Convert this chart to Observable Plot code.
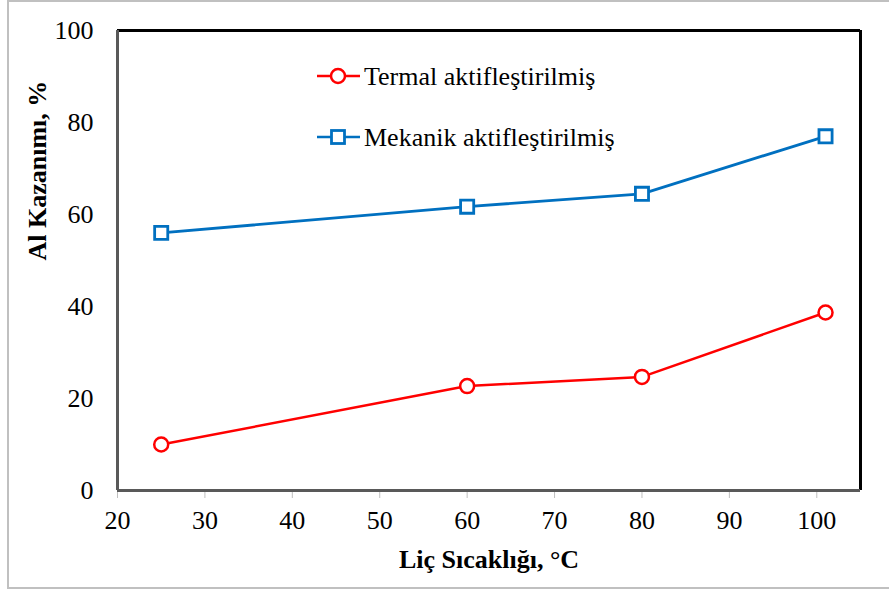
<!DOCTYPE html>
<html>
<head>
<meta charset="utf-8">
<script src="https://cdn.jsdelivr.net/npm/d3@7"></script>
<script src="https://cdn.jsdelivr.net/npm/@observablehq/plot@0.6"></script>
<style>
  html, body { margin: 0; padding: 0; background: #fff; }
  #wrap { position: relative; width: 889px; height: 590px; overflow: hidden; }
  #border { position: absolute; left: 7px; top: 0px; width: 900px; height: 585px; border: 2px solid #c0c0c0; box-sizing: content-box; }
  #chart { position: absolute; left: 0; top: 0; }
  #legend { position: absolute; left: 0; top: 0; }
</style>
</head>
<body>
<div id="wrap">
  <div id="border"></div>
  <div id="chart"></div>
  <svg id="legend" width="889" height="590"></svg>
</div>
<script>
const temps = [25, 60, 80, 101];
const termal = [10.0, 22.7, 24.7, 38.7];
const mekanik = [56.0, 61.7, 64.5, 77.0];
const seriesNames = ["Termal aktifleştirilmiş", "Mekanik aktifleştirilmiş"];
const xTicks = [20, 30, 40, 50, 60, 70, 80, 90, 100];
const yTicks = [0, 20, 40, 60, 80, 100];
const xLabel = "Liç Sıcaklığı, °C";
const yLabel = "Al Kazanımı, %";

const red = "#FF0000";
const blue = "#0070C0";

const tData = temps.map((t, i) => ({x: t, y: termal[i]}));
const mData = temps.map((t, i) => ({x: t, y: mekanik[i]}));

const font = "'Liberation Serif', 'Times New Roman', serif";

const chart = Plot.plot({
  width: 889,
  height: 590,
  marginLeft: 117,
  marginRight: 29,
  marginTop: 30,
  marginBottom: 100,
  style: {fontFamily: font, fontSize: "26px", color: "#000", background: "transparent"},
  x: {domain: [20, 105]},
  y: {domain: [0, 100]},
  marks: [
    Plot.axisX({ticks: xTicks, tickSize: 8, tickPadding: 12, stroke: "#bfbfbf", fill: "#000", label: null, fontSize: 26, strokeWidth: 1}),
    Plot.axisY({ticks: yTicks, tickSize: 0, tickPadding: 24, fill: "#000", label: null, fontSize: 26}),
    Plot.ruleY([100], {stroke: "#000", strokeWidth: 3}),
    Plot.ruleX([105], {stroke: "#000", strokeWidth: 3}),
    Plot.ruleY([0], {stroke: "#595959", strokeWidth: 3}),
    Plot.ruleX([20], {stroke: "#595959", strokeWidth: 3}),
    Plot.line(tData, {x: "x", y: "y", stroke: red, strokeWidth: 2.5}),
    Plot.line(mData, {x: "x", y: "y", stroke: blue, strokeWidth: 2.8}),
    Plot.dot(tData, {x: "x", y: "y", r: 7, stroke: red, fill: "#fff", strokeWidth: 2.5}),
    Plot.dot(mData, {x: "x", y: "y", r: 7.4, symbol: "square", stroke: blue, fill: "#fff", strokeWidth: 2.8}),
    Plot.text([xLabel], {frameAnchor: "bottom", dy: 77, fontWeight: "bold", fontSize: 26, fill: "#000"}),
    Plot.text([yLabel], {frameAnchor: "left", dx: -80, rotate: -90, fontWeight: "bold", fontSize: 26, fill: "#000"})
  ]
});
document.getElementById("chart").appendChild(chart);

// Legend overlay
const lg = d3.select("#legend");
const rows = [
  {name: seriesNames[0], color: red, sym: "circle", cy: 76},
  {name: seriesNames[1], color: blue, sym: "square", cy: 137}
];
rows.forEach(r => {
  lg.append("line").attr("x1", 317).attr("x2", 360).attr("y1", r.cy).attr("y2", r.cy)
    .attr("stroke", r.color).attr("stroke-width", 2.5);
  if (r.sym === "circle") {
    lg.append("circle").attr("cx", 338).attr("cy", r.cy).attr("r", 7)
      .attr("fill", "#fff").attr("stroke", r.color).attr("stroke-width", 2.5);
  } else {
    lg.append("rect").attr("x", 338 - 6.5).attr("y", r.cy - 6.5).attr("width", 13).attr("height", 13)
      .attr("fill", "#fff").attr("stroke", r.color).attr("stroke-width", 2.8);
  }
  lg.append("text").attr("x", 364).attr("y", r.cy).attr("dy", "0.35em")
    .attr("font-family", font).attr("font-size", 26).attr("fill", "#000").text(r.name);
});
</script>
</body>
</html>
